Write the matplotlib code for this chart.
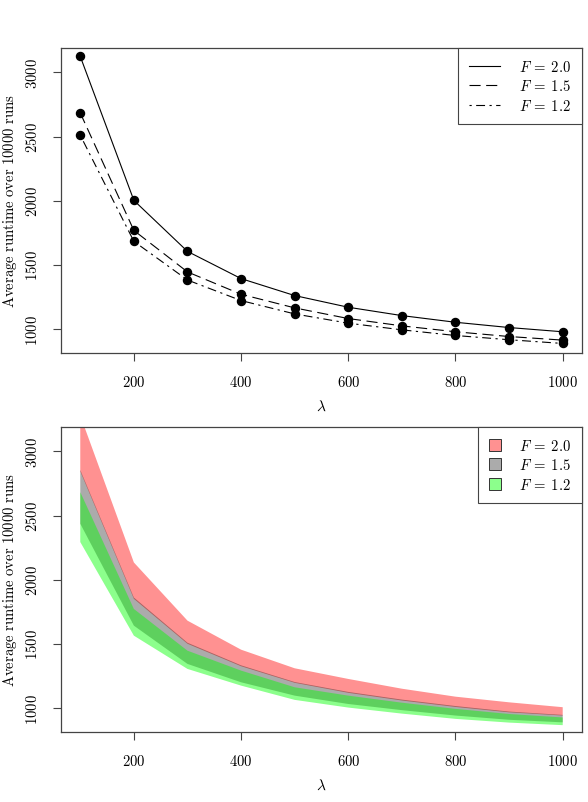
import matplotlib
matplotlib.use("Agg")
import matplotlib.pyplot as plt
from matplotlib.patches import Patch
from matplotlib.lines import Line2D

plt.rcParams['mathtext.fontset'] = 'cm'

# population size lambda
lam = [100, 200, 300, 400, 500, 600, 700, 800, 900, 1000]

# mean runtimes (top panel)
mean_f20 = [3124, 2003, 1606, 1394, 1262, 1171, 1106, 1054, 1013, 980]
mean_f15 = [2684, 1769, 1446, 1272, 1166, 1083, 1026, 980, 943, 915]
mean_f12 = [2510, 1684, 1383, 1223, 1119, 1047, 995, 951, 918, 889]

# spread bands (bottom panel)
f20_hi = [3280, 2135, 1682, 1456, 1311, 1228, 1152, 1090, 1046, 1008]
f20_lo = [2845, 1852, 1502, 1327, 1198, 1120, 1060, 1010, 968, 943]
f15_hi = [2855, 1862, 1510, 1334, 1204, 1127, 1067, 1017, 974, 948]
f15_lo = [2437, 1643, 1345, 1202, 1098, 1033, 985, 943, 910, 890]
f12_hi = [2683, 1773, 1448, 1293, 1163, 1098, 1043, 995, 955, 928]
f12_lo = [2294, 1565, 1306, 1176, 1065, 1005, 958, 917, 888, 868]

xticks = [200, 400, 600, 800, 1000]
yticks = [1000, 1500, 2000, 2500, 3000]
labels = [r'$F \:=\: 2.0$', r'$F \:=\: 1.5$', r'$F \:=\: 1.2$']

red = (1.0, 0.0, 0.0, 0.43)
grey = (0.0, 0.0, 0.0, 0.33)
green = (0.0, 1.0, 0.0, 0.45)

fs = 10.6
spine_col = '#444444'


def style_axes(ax):
    ax.set_xlim(64, 1036)
    ax.set_ylim(815, 3190)
    for s in ax.spines.values():
        s.set_color(spine_col)
        s.set_linewidth(0.9)
    ax.set_xticks(xticks)
    ax.set_xticklabels([r'$%d$' % t for t in xticks], fontsize=fs)
    ax.set_yticks(yticks)
    ax.set_yticklabels([r'$%d$' % t for t in yticks], fontsize=fs,
                       rotation=90, va='center')
    ax.tick_params(direction='out', length=5.8, width=0.8, color=spine_col,
                   pad=9)
    ax.set_xlabel(r'$\lambda$', fontsize=fs + 0.5, labelpad=7)
    ax.set_ylabel(r'$\mathrm{Average\ runtime\ over\ 10000\ runs}$',
                  fontsize=fs)
    ax.yaxis.set_label_coords(-0.080, 0.5)


fig = plt.figure(figsize=(5.88, 8.03), dpi=100)

# top panel: mean runtime
ax1 = fig.add_axes([0.1037, 0.5592, 0.8861, 0.3798])
ax1.plot(lam, mean_f20, color='black', lw=0.8, ls='-',
         marker='o', ms=5.8)
ax1.plot(lam, mean_f15, color='black', lw=0.8, ls=(0, (10, 5)),
         marker='o', ms=5.8)
ax1.plot(lam, mean_f12, color='black', lw=0.8, ls=(0, (2, 4, 8, 4)),
         marker='o', ms=5.8)
style_axes(ax1)
handles1 = [
    Line2D([], [], color='black', lw=0.8, ls='-'),
    Line2D([], [], color='black', lw=0.8, ls=(0, (10, 5))),
    Line2D([], [], color='black', lw=0.8, ls=(0, (2, 4, 8, 4))),
]
leg1 = ax1.legend(handles1, labels,
                  loc='upper right', borderaxespad=0, fontsize=fs,
                  fancybox=False, framealpha=1, edgecolor=spine_col,
                  handlelength=2.1, handletextpad=1.3, borderpad=0.75,
                  labelspacing=0.3)
leg1.get_frame().set_linewidth(0.8)

# bottom panel: spread bands
ax2 = fig.add_axes([0.1037, 0.0872, 0.8861, 0.3798])
ax2.fill_between(lam, f20_lo, f20_hi, facecolor=red, edgecolor='none')
ax2.fill_between(lam, f15_lo, f15_hi, facecolor=grey, edgecolor='none')
ax2.fill_between(lam, f12_lo, f12_hi, facecolor=green, edgecolor='none')
style_axes(ax2)
handles2 = [
    Patch(facecolor=red, edgecolor='#333333', lw=0.7),
    Patch(facecolor=grey, edgecolor='#333333', lw=0.7),
    Patch(facecolor=green, edgecolor='#333333', lw=0.7),
]
leg2 = ax2.legend(handles2, labels,
                  loc='upper right', borderaxespad=0, fontsize=fs,
                  fancybox=False, framealpha=1, edgecolor=spine_col,
                  handlelength=0.85, handleheight=0.85, handletextpad=1.2,
                  borderpad=0.75, labelspacing=0.3)
leg2.get_frame().set_linewidth(0.8)

fig.savefig('out.png', dpi=100)
